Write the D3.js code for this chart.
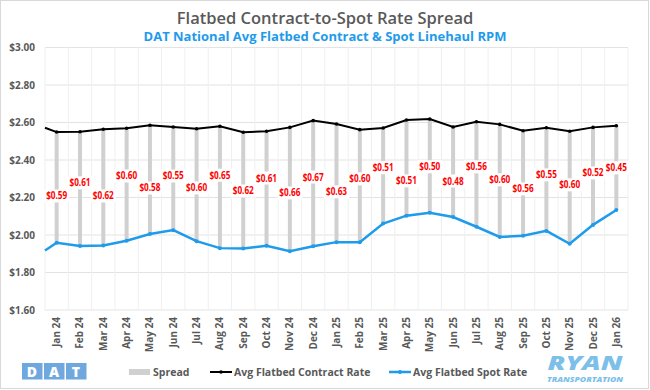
<!DOCTYPE html>
<html>
<head>
<meta charset="utf-8">
<script src="https://cdn.jsdelivr.net/npm/d3@7"></script>
<style>
  body { margin: 0; background: #fff; }
  text { font-family: "Open Sans", "Noto Sans", sans-serif; }
</style>
</head>
<body>
<script>
// Data
const months = ['Jan 24', 'Feb 24', 'Mar 24', 'Apr 24', 'May 24', 'Jun 24', 'Jul 24', 'Aug 24', 'Sep 24',
    'Oct 24', 'Nov 24', 'Dec 24', 'Jan 25', 'Feb 25', 'Mar 25', 'Apr 25', 'May 25', 'Jun 25', 'Jul 25',
    'Aug 25', 'Sep 25', 'Oct 25', 'Nov 25', 'Dec 25', 'Jan 26'];
const contractRate = [2.549, 2.551, 2.564, 2.569, 2.585, 2.576, 2.567, 2.580, 2.548, 2.553, 2.574, 2.610,
    2.592, 2.562, 2.571, 2.613, 2.619, 2.576, 2.604, 2.590, 2.556, 2.572, 2.553, 2.574, 2.583];
const spotRate = [1.959, 1.941, 1.944, 1.969, 2.005, 2.026, 1.967, 1.930, 1.928, 1.943, 1.914, 1.940,
    1.962, 1.962, 2.061, 2.103, 2.119, 2.096, 2.044, 1.990, 1.996, 2.022, 1.953, 2.054, 2.133];
const spread = [0.59, 0.61, 0.62, 0.60, 0.58, 0.55, 0.60, 0.65, 0.62, 0.61, 0.66, 0.67, 0.63, 0.60,
    0.51, 0.51, 0.50, 0.48, 0.56, 0.60, 0.56, 0.55, 0.60, 0.52, 0.45];
// Dec 23 values, only visible as the line segment at the left edge
const priorContract = 2.572;
const priorSpot = 1.917;
const yTicks = [1.60, 1.80, 2.00, 2.20, 2.40, 2.60, 2.80, 3.00];

// Constants
const width = 650;
const height = 390;
const margin = { top: 47.5, right: 22, bottom: 80, left: 45 };
const blue = '#1e9bea';
const grey = '#595959';
// hand placed label nudges (px from bar middle), as in the original
const labelNudge = [8.6, -6, 8.6, -8.6, 8.3, -2.6, 3, -12, 0.6, -10.5, 3.7, -6.4, 8.8, -7, -8, 13, 1, 9,
    -7.4, -0.8, 5.7, -4.4, -2.7, -3.2, 0];

const svg = d3.select('body')
    .append('svg')
    .attr('width', width)
    .attr('height', height);

// Outer border
svg.append('rect')
    .attr('x', 0.5).attr('y', 0.5)
    .attr('width', width - 2).attr('height', height - 2)
    .attr('fill', '#fff')
    .attr('stroke', '#d9d9d9');

// Scales
const x = d3.scaleBand()
    .domain(months)
    .range([margin.left, width - margin.right]);
const y = d3.scaleLinear()
    .domain([1.6, 3.0])
    .range([height - margin.bottom, margin.top]);
const cx = d => x(d) + x.bandwidth() / 2;

// Gridlines
svg.append('g')
    .selectAll('line')
    .data(yTicks)
    .join('line')
    .attr('x1', margin.left).attr('x2', width - margin.right)
    .attr('y1', d => y(d)).attr('y2', d => y(d))
    .attr('stroke', '#e3e3e3')
    .attr('stroke-width', 1);

svg.append('g')
    .selectAll('line')
    .data(months.concat(['end']))
    .join('line')
    .attr('x1', (d, i) => margin.left + i * x.bandwidth())
    .attr('x2', (d, i) => margin.left + i * x.bandwidth())
    .attr('y1', y(3.0)).attr('y2', y(1.6))
    .attr('stroke', '#efefef')
    .attr('stroke-width', 1);

// Y axis labels
svg.append('g')
    .selectAll('text')
    .data(yTicks)
    .join('text')
    .attr('x', 35)
    .attr('y', d => y(d))
    .attr('dy', '0.35em')
    .attr('text-anchor', 'end')
    .attr('font-size', 10)
    .attr('font-weight', 700)
    .attr('fill', grey)
    .text(d => '$' + d.toFixed(2));

// X axis labels
svg.append('g')
    .selectAll('text')
    .data(months)
    .join('text')
    .attr('transform', d => `translate(${cx(d) + 3.5},${y(1.6) + 7}) rotate(-90)`)
    .attr('text-anchor', 'end')
    .attr('font-size', 10)
    .attr('font-weight', 700)
    .attr('fill', grey)
    .text(d => d);

// Spread bars
svg.append('g')
    .selectAll('line')
    .data(months)
    .join('line')
    .attr('x1', d => cx(d)).attr('x2', d => cx(d))
    .attr('y1', (d, i) => y(contractRate[i]))
    .attr('y2', (d, i) => y(spotRate[i]))
    .attr('stroke', '#d0d0d0')
    .attr('stroke-width', 4);

// Lines
const contractPts = [[margin.left, y(priorContract)]].concat(months.map((m, i) => [cx(m), y(contractRate[i])]));
const spotPts = [[margin.left, y(priorSpot)]].concat(months.map((m, i) => [cx(m), y(spotRate[i])]));
const line = d3.line();

svg.append('path')
    .attr('d', line(contractPts))
    .attr('fill', 'none')
    .attr('stroke', '#000')
    .attr('stroke-width', 2);
svg.append('g')
    .selectAll('circle')
    .data(months)
    .join('circle')
    .attr('cx', d => cx(d))
    .attr('cy', (d, i) => y(contractRate[i]))
    .attr('r', 1.8)
    .attr('fill', '#000');

svg.append('path')
    .attr('d', line(spotPts))
    .attr('fill', 'none')
    .attr('stroke', blue)
    .attr('stroke-width', 2.5);
svg.append('g')
    .selectAll('circle')
    .data(months)
    .join('circle')
    .attr('cx', d => cx(d))
    .attr('cy', (d, i) => y(spotRate[i]))
    .attr('r', 2)
    .attr('fill', blue);

// Spread labels
const labelY = (d, i) => (y(contractRate[i]) + y(spotRate[i])) / 2 + labelNudge[i];
const labels = svg.append('g')
    .selectAll('g')
    .data(months)
    .join('g')
    .attr('transform', (d, i) => `translate(${cx(d)},${labelY(d, i)})`);
labels.append('rect')
    .attr('x', -12.5).attr('y', -6.5)
    .attr('width', 25).attr('height', 13)
    .attr('fill', '#fff');
labels.append('text')
    .attr('text-anchor', 'middle')
    .attr('dy', '0.35em')
    .attr('font-family', 'Roboto, sans-serif')
    .attr('font-size', 10)
    .attr('font-weight', 700)
    .attr('fill', '#ff0000')
    .attr('textLength', 21)
    .attr('lengthAdjust', 'spacingAndGlyphs')
    .text((d, i) => '$' + spread[i].toFixed(2));

// Titles
svg.append('text')
    .attr('x', width / 2).attr('y', 24)
    .attr('text-anchor', 'middle')
    .attr('font-size', 16.5)
    .attr('font-weight', 600)
    .attr('fill', grey)
    .text('Flatbed Contract-to-Spot Rate Spread');
svg.append('text')
    .attr('x', width / 2).attr('y', 41)
    .attr('text-anchor', 'middle')
    .attr('font-size', 13)
    .attr('font-weight', 700)
    .attr('fill', blue)
    .text('DAT National Avg Flatbed Contract & Spot Linehaul RPM');

// Legend
const legend = svg.append('g').attr('font-size', 10.5).attr('font-weight', 700).attr('fill', grey);
legend.append('rect').attr('x', 129).attr('y', 369).attr('width', 21).attr('height', 6).attr('fill', '#d0d0d0');
legend.append('text').attr('x', 153).attr('y', 376).text('Spread');
legend.append('line').attr('x1', 210).attr('x2', 232).attr('y1', 372).attr('y2', 372)
    .attr('stroke', '#000').attr('stroke-width', 2);
legend.append('circle').attr('cx', 221).attr('cy', 372).attr('r', 1.8).attr('fill', '#000');
legend.append('text').attr('x', 234).attr('y', 376).text('Avg Flatbed Contract Rate');
legend.append('line').attr('x1', 389).attr('x2', 411).attr('y1', 372).attr('y2', 372)
    .attr('stroke', blue).attr('stroke-width', 2.5);
legend.append('circle').attr('cx', 400).attr('cy', 372).attr('r', 2).attr('fill', blue);
legend.append('text').attr('x', 413).attr('y', 376).text('Avg Flatbed Spot Rate');

// DAT logo
const dat = svg.append('g');
['D', 'A', 'T'].forEach((c, i) => {
    dat.append('rect')
        .attr('x', 22 + i * 22).attr('y', 363)
        .attr('width', 20.5).attr('height', 16.5)
        .attr('fill', '#6fa8de');
    dat.append('text')
        .attr('x', 32 + i * 22).attr('y', 376.5)
        .attr('text-anchor', 'middle')
        .attr('font-family', 'Roboto, sans-serif')
        .attr('font-size', 14)
        .attr('font-weight', 900)
        .attr('fill', '#fff')
        .text(c);
});

// RYAN logo
svg.append('text')
    .attr('x', 585).attr('y', 369.5)
    .attr('text-anchor', 'middle')
    .attr('font-family', 'Roboto, sans-serif')
    .attr('font-size', 19)
    .attr('font-weight', 900)
    .attr('font-style', 'italic')
    .attr('fill', '#7cc0ea')
    .attr('textLength', 75)
    .attr('lengthAdjust', 'spacingAndGlyphs')
    .text('RYAN');
svg.append('text')
    .attr('x', 585).attr('y', 382)
    .attr('text-anchor', 'middle')
    .attr('font-family', 'Roboto, sans-serif')
    .attr('font-size', 6.5)
    .attr('font-weight', 900)
    .attr('font-style', 'italic')
    .attr('fill', '#7cc0ea')
    .attr('textLength', 76)
    .attr('lengthAdjust', 'spacingAndGlyphs')
    .text('TRANSPORTATION');
</script>
</body>
</html>
